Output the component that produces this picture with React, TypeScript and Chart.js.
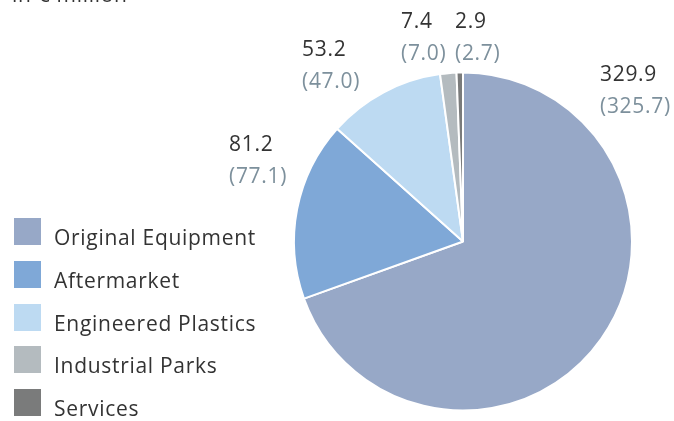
import React, { useEffect, useRef } from "react";
import { Chart, registerables } from "chart.js";

Chart.register(...registerables);

const title = "in € million";
const categories = ["Original Equipment", "Aftermarket", "Engineered Plastics", "Industrial Parks", "Services"];
const values2019 = [329.9, 81.2, 53.2, 7.4, 2.9];
const values2018 = [325.7, 77.1, 47.0, 7.0, 2.7];
const colors = ["#97a8c7", "#7fa8d7", "#bddaf2", "#b4bbbf", "#7a7b7b"];

// label anchor placement (left, top of first line) per category
const labelPos = [
  [600, 57],
  [229, 127],
  [302, 32],
  [401, 4],
  [455, 4],
];

const FONT = "'Open Sans', 'Noto Sans', sans-serif";

export default function App() {
  const ref = useRef<HTMLCanvasElement>(null);
  useEffect(() => {
    document.body.style.margin = "0";
    const chart = new Chart(ref.current!, {
      type: "pie",
      data: {
        labels: categories,
        datasets: [
          {
            data: values2019,
            backgroundColor: colors,
            borderColor: "#ffffff",
            borderWidth: 2,
          },
        ],
      },
      options: {
        animation: false,
        responsive: false,
        maintainAspectRatio: false,
        layout: { padding: { left: 293, right: 41, top: 71, bottom: 9 } },
        plugins: {
          legend: { display: false },
          tooltip: { enabled: false },
          title: { display: false },
        },
      },
    });
    return () => chart.destroy();
  }, []);

  const textStyle: React.CSSProperties = {
    position: "absolute",
    fontFamily: FONT,
    fontSize: 21,
    letterSpacing: 0.7,
    lineHeight: "32px",
    whiteSpace: "nowrap",
  };

  return (
    <div style={{ position: "relative", width: 674, height: 421, overflow: "hidden", background: "#fff" }}>
      <canvas ref={ref} width={674} height={421} style={{ position: "absolute", left: 0, top: 0 }} />
      <div style={{ ...textStyle, left: 12, top: -22, color: "#333" }}>{title}</div>
      {categories.map((c, i) => (
        <div key={c}>
          <div
            style={{
              position: "absolute",
              left: 14,
              top: 218 + i * 42.75,
              width: 27,
              height: 27,
              background: colors[i],
            }}
          />
          <div style={{ ...textStyle, left: 54, top: 218 + i * 42.75 + 3, color: "#333" }}>{c}</div>
        </div>
      ))}
      {values2019.map((v, i) => (
        <div key={"l" + i} style={{ ...textStyle, left: labelPos[i][0], top: labelPos[i][1] }}>
          <div style={{ color: "#333" }}>{v.toFixed(1)}</div>
          <div style={{ color: "#7d909c" }}>({values2018[i].toFixed(1)})</div>
        </div>
      ))}
    </div>
  );
}
